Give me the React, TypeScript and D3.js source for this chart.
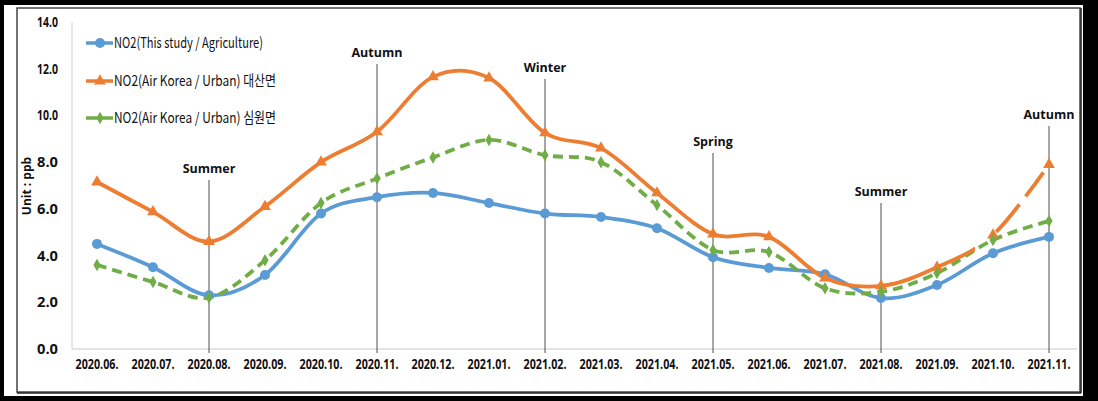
import React from "react";
import * as d3 from "d3";

const categories = ["2020.06.", "2020.07.", "2020.08.", "2020.09.", "2020.10.", "2020.11.", "2020.12.", "2021.01.", "2021.02.", "2021.03.", "2021.04.", "2021.05.", "2021.06.", "2021.07.", "2021.08.", "2021.09.", "2021.10.", "2021.11."];
const agriculture = [4.5, 3.5, 2.3, 3.17, 5.8, 6.5, 6.68, 6.25, 5.8, 5.65, 5.17, 3.93, 3.47, 3.2, 2.18, 2.74, 4.1, 4.8];
const daesan = [7.15, 5.87, 4.6, 6.1, 8.0, 9.3, 11.65, 11.6, 9.25, 8.6, 6.68, 4.92, 4.8, 3.04, 2.7, 3.5, 4.88, 7.9];
const simwon = [3.6, 2.87, 2.2, 3.8, 6.25, 7.3, 8.2, 8.95, 8.3, 8.0, 6.16, 4.24, 4.15, 2.6, 2.45, 3.25, 4.67, 5.48];
const yTicks = [0, 2, 4, 6, 8, 10, 12, 14];
const seasons = [
  { cat: "2020.08.", label: "Summer", ly: 168 },
  { cat: "2020.11.", label: "Autumn", ly: 52 },
  { cat: "2021.02.", label: "Winter", ly: 67 },
  { cat: "2021.05.", label: "Spring", ly: 141 },
  { cat: "2021.08.", label: "Summer", ly: 191 },
  { cat: "2021.11.", label: "Autumn", ly: 114 },
];
const legendLabels = ["NO2(This study / Agriculture)", "NO2(Air Korea /  Urban) 대산면", "NO2(Air Korea /  Urban) 심원면"];

const BLUE = "#5B9BD5";
const ORANGE = "#ED7D31";
const GREEN = "#70AD47";

export default function App() {
  const W = 1098, H = 401;
  const x = d3.scalePoint<string>().domain(categories).range([69, 1077]).padding(0.5);
  const y = d3.scaleLinear().domain([0, 14]).range([349, 22]);
  const line = d3
    .line<number>()
    .x((_, i) => x(categories[i]) as number)
    .y((d) => y(d))
    .curve(d3.curveCardinal.tension(0));

  const tri = d3.symbol().type(d3.symbolTriangle).size(60)() as string;
  const dia = d3.symbol().type(d3.symbolDiamond).size(45)() as string;
  const splitX = (x(categories[16]) as number) - 18;

  const font = "'Open Sans', 'Liberation Sans', Arial, sans-serif";
  const legendFont = "'Noto Sans CJK KR', 'Noto Sans', sans-serif";

  const marker = (kind: number, cx: number, cy: number, key: string | number) => {
    if (kind === 0) return <circle key={key} cx={cx} cy={cy} r={5} fill={BLUE} />;
    if (kind === 1) return <path key={key} d={tri} transform={`translate(${cx},${cy})`} fill={ORANGE} />;
    return <path key={key} d={dia} transform={`translate(${cx},${cy})`} fill={GREEN} />;
  };

  const series = [
    { data: agriculture, color: BLUE, kind: 0 },
    { data: daesan, color: ORANGE, kind: 1 },
    { data: simwon, color: GREEN, kind: 2 },
  ];

  return (
    <svg width={W} height={H} style={{ position: "absolute", left: 0, top: 0 }} fontFamily={font}>
      <defs>
        <clipPath id="leftPart">
          <rect x={0} y={0} width={splitX} height={H} />
        </clipPath>
        <clipPath id="rightPart">
          <rect x={splitX} y={0} width={W - splitX} height={H} />
        </clipPath>
      </defs>
      <rect x={0} y={0} width={W} height={H} fill="#000" />
      <rect x={4} y={5} width={1079} height={391} fill="#fff" />
      <rect x={17} y={8} width={1063} height={384} fill="#fff" stroke="#444" strokeWidth={1.5} />
      <line x1={17} y1={393} x2={1081} y2={393} stroke="#222" strokeWidth={1.5} />
      <line x1={1081} y1={8} x2={1081} y2={393} stroke="#222" strokeWidth={1.5} />

      {/* axes */}
      <line x1={72} y1={22} x2={72} y2={349} stroke="#d0d0d0" strokeWidth={1} />
      <line x1={72} y1={349} x2={1077} y2={349} stroke="#c8c8c8" strokeWidth={1} />
      {yTicks.map((t) => (
        <text key={t} x={58} y={y(t) + 5} textAnchor="end" fontSize={13.5} fontWeight="bold" fill="#111" textLength={21} lengthAdjust="spacingAndGlyphs">
          {t.toFixed(1)}
        </text>
      ))}
      {categories.map((c) => (
        <text key={c} x={x(c) as number} y={369} textAnchor="middle" fontSize={14.5} fontWeight="bold" fill="#111" textLength={43} lengthAdjust="spacingAndGlyphs">
          {c}
        </text>
      ))}
      <text transform="translate(31,186) rotate(-90)" textAnchor="middle" fontSize={12} fontWeight="bold" fill="#111">
        Unit : ppb
      </text>

      {/* season lines */}
      {seasons.map((s, i) => (
        <g key={i}>
          <line x1={x(s.cat) as number} x2={x(s.cat) as number} y1={s.ly + 12} y2={353} stroke="#222" strokeWidth={0.8} />
          <text x={x(s.cat) as number} y={s.ly + 5} textAnchor="middle" fontSize={12.5} fontWeight="bold" fill="#111">
            {s.label}
          </text>
        </g>
      ))}

      {/* lines */}
      <path d={line(agriculture) as string} fill="none" stroke={BLUE} strokeWidth={3.8} />
      <path d={line(simwon) as string} fill="none" stroke={GREEN} strokeWidth={3.8} strokeDasharray="10,6" />
      <path d={line(daesan) as string} fill="none" stroke={ORANGE} strokeWidth={3.8} clipPath="url(#leftPart)" />
      <path d={line(daesan) as string} fill="none" stroke={ORANGE} strokeWidth={3.8} clipPath="url(#rightPart)" strokeDasharray="0,18,36,10,30,10" />

      {series.map((s, si) =>
        s.data.map((v, i) => marker(s.kind, x(categories[i]) as number, y(v), `${si}-${i}`))
      )}

      {/* legend */}
      {legendLabels.map((lab, i) => {
        const ly = [43, 81, 118][i];
        const s = series[i];
        return (
          <g key={lab}>
            <line x1={86} x2={113} y1={ly} y2={ly} stroke={s.color} strokeWidth={3.5} />
            {marker(s.kind, 100, ly, "m" + i)}
            <text x={114} y={ly + 5} fontSize={14.5} fill="#111" fontFamily={legendFont} textLength={i === 0 ? 149 : 162} lengthAdjust="spacingAndGlyphs">
              {lab}
            </text>
          </g>
        );
      })}
    </svg>
  );
}
